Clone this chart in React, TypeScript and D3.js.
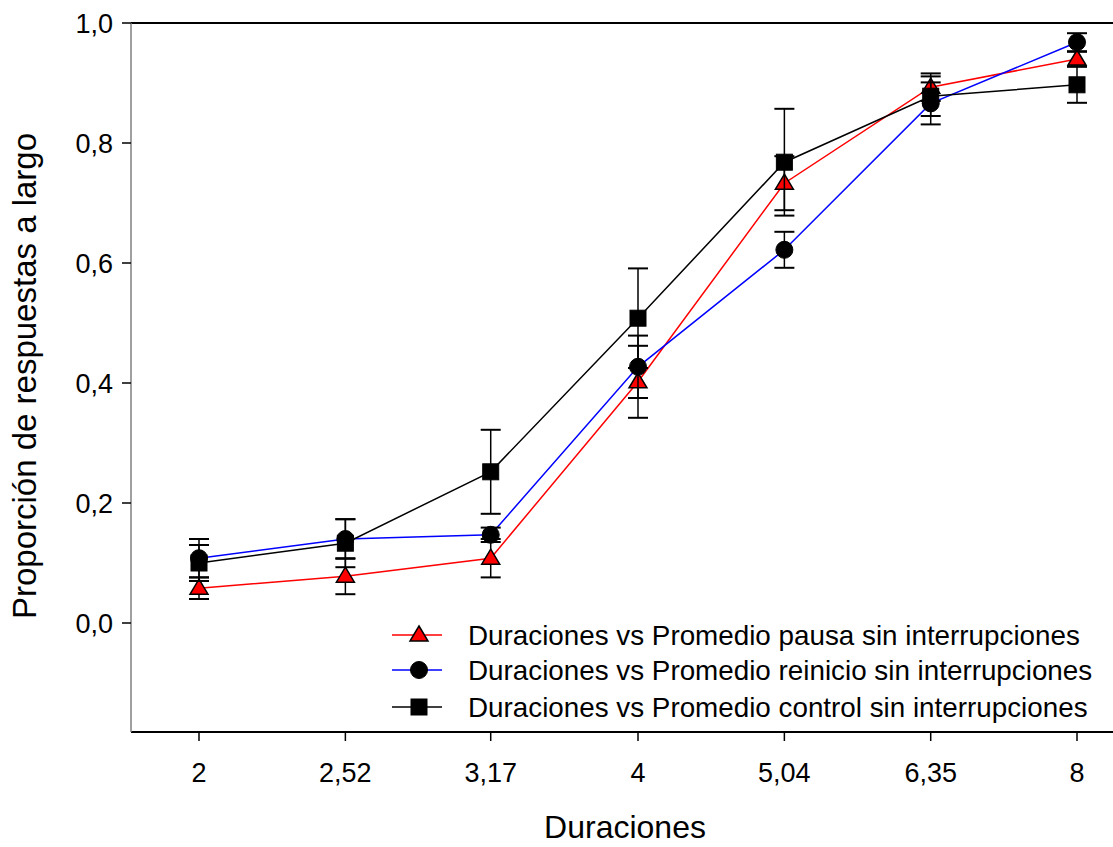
import React from "react";
import * as d3 from "d3";

const durations = [2, 2.52, 3.17, 4, 5.04, 6.35, 8];
const xTickLabels = ["2", "2,52", "3,17", "4", "5,04", "6,35", "8"];
const yTicks = [0, 0.2, 0.4, 0.6, 0.8, 1.0];

const pausaMean = [0.058, 0.078, 0.108, 0.402, 0.733, 0.893, 0.94];
const pausaErr = [0.018, 0.03, 0.032, 0.06, 0.045, 0.023, 0.012];
const reinicioMean = [0.108, 0.14, 0.147, 0.427, 0.622, 0.866, 0.968];
const reinicioErr = [0.032, 0.033, 0.012, 0.052, 0.03, 0.035, 0.015];
const controlMean = [0.1, 0.133, 0.252, 0.508, 0.768, 0.878, 0.897];
const controlErr = [0.03, 0.04, 0.07, 0.083, 0.089, 0.033, 0.03];

const seriesNames = [
  "Duraciones vs Promedio pausa sin interrupciones",
  "Duraciones vs Promedio reinicio sin interrupciones",
  "Duraciones vs Promedio control sin interrupciones",
];

type Shape = "triangle" | "circle" | "square";
const series = [
  { name: seriesNames[0], mean: pausaMean, err: pausaErr, color: "#ff0000", fill: "#ff0000", shape: "triangle" as Shape },
  { name: seriesNames[1], mean: reinicioMean, err: reinicioErr, color: "#0000ff", fill: "#000000", shape: "circle" as Shape },
  { name: seriesNames[2], mean: controlMean, err: controlErr, color: "#000000", fill: "#000000", shape: "square" as Shape },
];

function Marker({ shape, x, y, fill }: { shape: Shape; x: number; y: number; fill: string }) {
  if (shape === "circle") return <circle cx={x} cy={y} r={8.5} fill={fill} stroke="#000" strokeWidth={1} />;
  if (shape === "square") return <rect x={x - 8} y={y - 8} width={16} height={16} fill={fill} stroke="#000" strokeWidth={1} />;
  const h = 15, w = 18;
  return (
    <path
      d={`M${x},${y - h * 0.6} L${x + w / 2},${y + h * 0.4} L${x - w / 2},${y + h * 0.4} Z`}
      fill={fill}
      stroke="#000"
      strokeWidth={1.5}
    />
  );
}

export default function App() {
  const W = 1113, H = 847;
  const left = 131, top = 23, bottom = 732;
  const x = d3.scaleLog().domain([2, 8]).range([199, 1077]);
  const y = d3.scaleLinear().domain([0, 1]).range([623, 23]);
  const line = d3.line<number>().x((_, i) => x(durations[i])).y((d) => y(d));
  const font = "Arial, 'Liberation Sans', sans-serif";
  const legendY = [635, 670, 707];

  return (
    <svg width={W} height={H} style={{ position: "absolute", left: 0, top: 0, background: "#fff" }} fontFamily={font}>
      {/* frame */}
      <line x1={left} x2={W + 5} y1={top} y2={top} stroke="#000" strokeWidth={2} />
      <line x1={left} x2={W + 5} y1={bottom} y2={bottom} stroke="#000" strokeWidth={2} />
      <line x1={left} x2={left} y1={top} y2={bottom} stroke="#808080" strokeWidth={1.5} />

      {/* y ticks */}
      {yTicks.map((t) => (
        <g key={t}>
          <line x1={left - 9} x2={left} y1={y(t)} y2={y(t)} stroke="#000" strokeWidth={1.5} />
          <text x={113} y={y(t)} dy="0.36em" textAnchor="end" fontSize={27}>
            {d3.format(".1f")(t).replace(".", ",")}
          </text>
        </g>
      ))}
      {/* x ticks */}
      {durations.map((d, i) => (
        <g key={d}>
          <line x1={x(d)} x2={x(d)} y1={bottom} y2={bottom + 9} stroke="#000" strokeWidth={1.5} />
          <text x={x(d)} y={782} textAnchor="middle" fontSize={27}>
            {xTickLabels[i]}
          </text>
        </g>
      ))}

      {/* axis titles */}
      <text x={625} y={838} textAnchor="middle" fontSize={32}>Duraciones</text>
      <text transform={`translate(36,376) rotate(-90)`} textAnchor="middle" fontSize={33}>
        Proporción de respuestas a largo
      </text>

      {/* lines */}
      {series.map((s) => (
        <path key={s.name + "l"} d={line(s.mean) || ""} fill="none" stroke={s.color} strokeWidth={1.5} />
      ))}
      {/* error bars + markers */}
      {series.map((s) => (
        <g key={s.name + "m"}>
          {s.mean.map((m, i) => {
            const cx = x(durations[i]);
            const y1 = y(m + s.err[i]);
            const y2 = y(m - s.err[i]);
            return (
              <g key={i}>
                <line x1={cx} x2={cx} y1={y1} y2={y2} stroke="#000" strokeWidth={1.5} />
                <line x1={cx - 10} x2={cx + 10} y1={y1} y2={y1} stroke="#000" strokeWidth={2} />
                <line x1={cx - 10} x2={cx + 10} y1={y2} y2={y2} stroke="#000" strokeWidth={2} />
              </g>
            );
          })}
          {s.mean.map((m, i) => (
            <Marker key={"k" + i} shape={s.shape} x={x(durations[i])} y={y(m)} fill={s.fill} />
          ))}
        </g>
      ))}

      {/* legend */}
      {series.map((s, i) => (
        <g key={s.name + "g"}>
          <line x1={392} x2={442} y1={legendY[i]} y2={legendY[i]} stroke={s.color} strokeWidth={1.5} />
          <Marker shape={s.shape} x={419} y={legendY[i]} fill={s.fill} />
          <text x={468} y={legendY[i]} dy="0.36em" fontSize={27.8}>{s.name}</text>
        </g>
      ))}
    </svg>
  );
}
